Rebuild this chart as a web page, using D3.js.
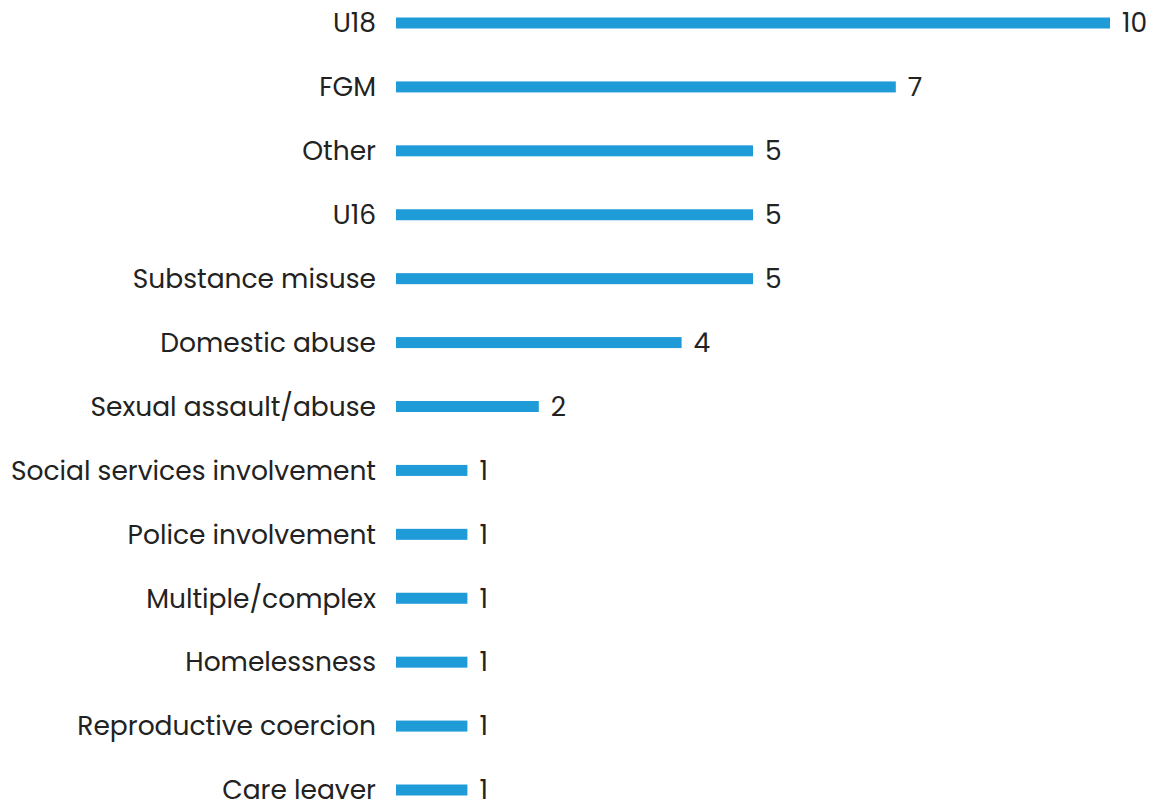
<!DOCTYPE html>
<html>
<head>
<meta charset="utf-8">
<script src="https://cdn.jsdelivr.net/npm/d3@7"></script>
<style>
  html, body { margin: 0; padding: 0; background: #ffffff; }
  svg { display: block; }
  text { font-family: "Poppins", "Inter", "Noto Sans", sans-serif; fill: #222222; }
</style>
</head>
<body>
<svg id="chart" width="1152" height="807"></svg>
<script>
// Reasons recorded, with the count for each
const categories = [
  "U18", "FGM", "Other", "U16", "Substance misuse", "Domestic abuse",
  "Sexual assault/abuse", "Social services involvement", "Police involvement",
  "Multiple/complex", "Homelessness", "Reproductive coercion", "Care leaver"
];
const counts = [10, 7, 5, 5, 5, 4, 2, 1, 1, 1, 1, 1, 1];
const maxCount = 10;

const svg = d3.select("#chart");
const barLeft = 396, barRight = 1110;
const barHeight = 11;
const labelSize = 26.5;

const rows = categories.map((c, i) => ({ category: c, value: counts[i] }));

const x = d3.scaleLinear().domain([0, maxCount]).range([barLeft, barRight]);
const y = d3.scalePoint().domain(categories).range([23, 790]);

// Bars
svg.append("g")
  .selectAll("rect")
  .data(rows)
  .join("rect")
  .attr("x", x(0))
  .attr("y", d => y(d.category) - barHeight / 2)
  .attr("width", d => x(d.value) - x(0))
  .attr("height", barHeight)
  .attr("fill", "#1f9bd8");

// Category labels, right-aligned against the bars
svg.append("g")
  .selectAll("text")
  .data(rows)
  .join("text")
  .attr("x", barLeft - 20)
  .attr("y", d => y(d.category))
  .attr("dy", "0.35em")
  .attr("text-anchor", "end")
  .attr("font-size", labelSize)
  .text(d => d.category);

// Value labels at the end of each bar
svg.append("g")
  .selectAll("text")
  .data(rows)
  .join("text")
  .attr("x", d => x(d.value) + 12)
  .attr("y", d => y(d.category))
  .attr("dy", "0.35em")
  .attr("font-size", labelSize)
  .text(d => d.value);
</script>
</body>
</html>
